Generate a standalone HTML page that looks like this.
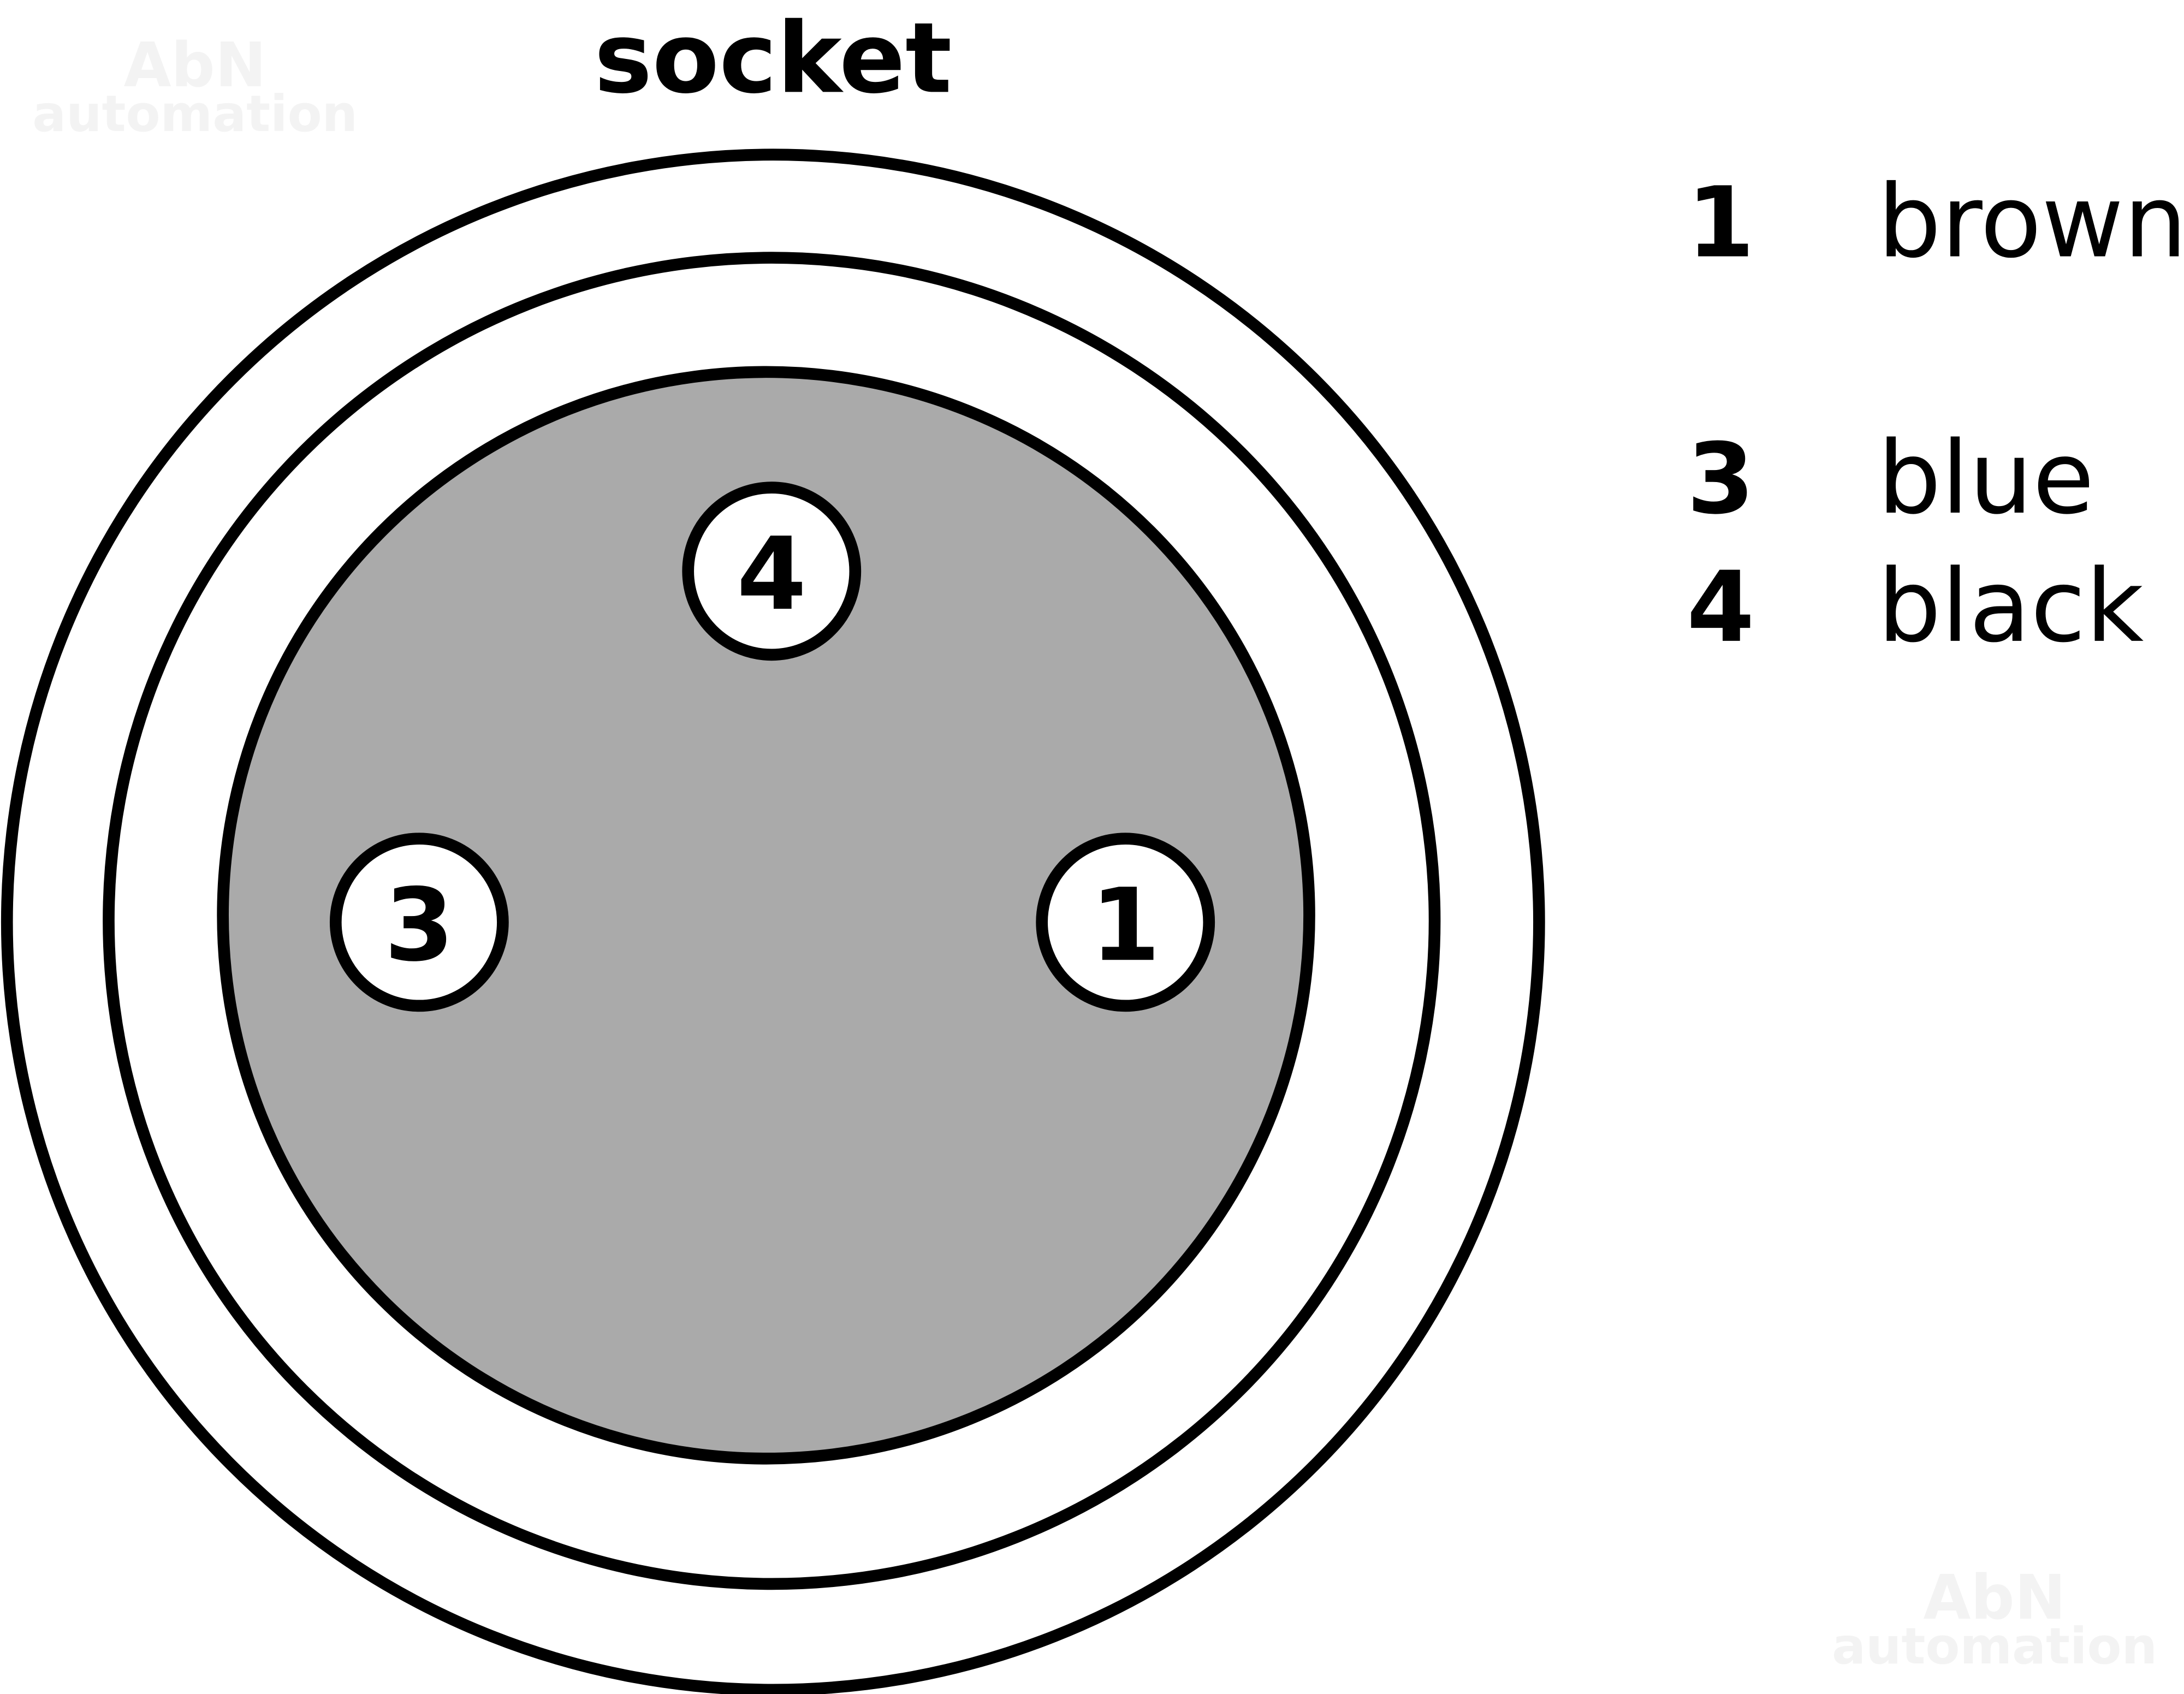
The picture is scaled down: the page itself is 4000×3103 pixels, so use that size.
<!DOCTYPE html>
<html><head><meta charset="utf-8"><style>
html,body{margin:0;padding:0;background:#fff;}
svg{display:block;}
</style></head><body>
<svg width="4000" height="3103" viewBox="0 0 1568 1216" preserveAspectRatio="none" xmlns="http://www.w3.org/2000/svg">
<rect width="1568" height="1216" fill="#fff"/>
<g font-family="'DejaVu Sans','Liberation Sans',sans-serif" font-weight="bold" fill="#f3f3f3">
<text x="140" y="62" font-size="44" text-anchor="middle">AbN</text>
<text x="140" y="94" font-size="36" text-anchor="middle">automation</text>
<text x="1432" y="1162" font-size="44" text-anchor="middle">AbN</text>
<text x="1432" y="1194" font-size="36" text-anchor="middle">automation</text>
</g>
<g fill="none" stroke="#000" stroke-width="8.5">
<ellipse cx="555" cy="662" rx="550" ry="551" fill="#fff"/>
<ellipse cx="554" cy="661" rx="476" ry="476" fill="#fff"/>
<ellipse cx="550" cy="657" rx="390" ry="390" fill="#aaa"/>
<circle cx="554" cy="410" r="60" fill="#fff"/>
<circle cx="301" cy="662" r="60" fill="#fff"/>
<circle cx="808" cy="662" r="60" fill="#fff"/>
</g>
<g font-family="'DejaVu Sans','Liberation Sans',sans-serif" fill="#000">
<text x="555" y="66" font-size="70" font-weight="bold" text-anchor="middle">socket</text>
<text x="554" y="437" font-size="72" font-weight="bold" text-anchor="middle">4</text>
<text x="301" y="689" font-size="72" font-weight="bold" text-anchor="middle">3</text>
<text x="808" y="689" font-size="72" font-weight="bold" text-anchor="middle">1</text>
<text x="1211" y="184" font-size="70" font-weight="bold">1</text>
<text x="1348" y="184" font-size="72">brown</text>
<text x="1211" y="368" font-size="70" font-weight="bold">3</text>
<text x="1348" y="368" font-size="72">blue</text>
<text x="1211" y="460" font-size="70" font-weight="bold">4</text>
<text x="1348" y="460" font-size="72">black</text>
</g>
</svg>
</body></html>
